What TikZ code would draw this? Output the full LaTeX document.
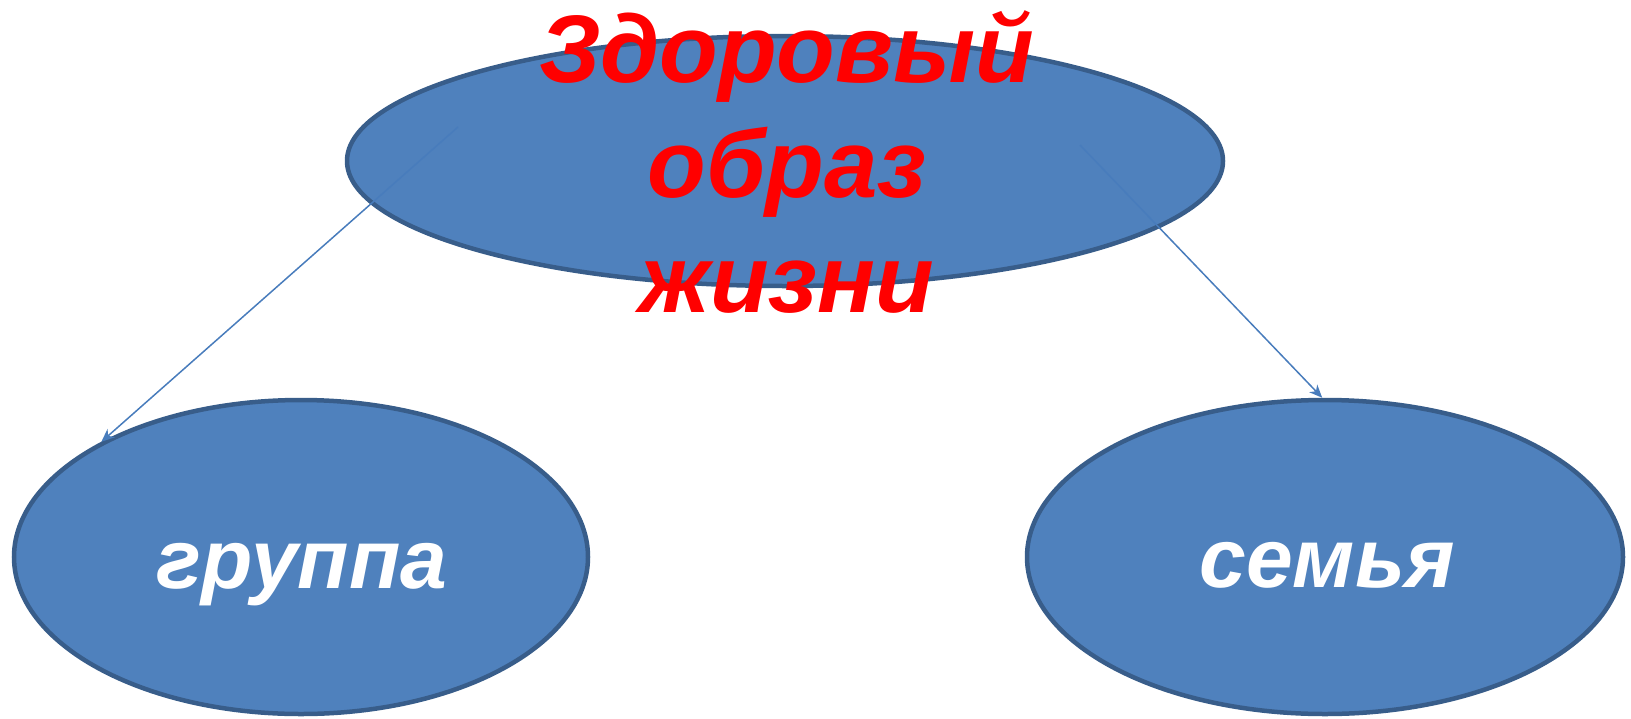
\documentclass[tikz,border=0pt]{standalone}
\usepackage{fontspec}
\setmainfont{Liberation Sans}
\usetikzlibrary{shapes.geometric,arrows.meta}
\definecolor{efill}{RGB}{79,129,189}
\definecolor{edraw}{RGB}{56,93,138}
\definecolor{lcol}{RGB}{72,124,188}
\definecolor{tred}{RGB}{255,0,0}
\tikzset{
  oval/.style={ellipse, fill=efill, draw=edraw, line width=4.5pt, inner sep=0pt},
  link/.style={draw=lcol, line width=1.5pt, -{Stealth[length=13pt,width=11pt,inset=4pt]}},
  wlabel/.style={text=white, font=\fontsize{84}{100}\selectfont\bfseries\itshape, anchor=base, inner sep=0pt},
  rlabel/.style={text=tred, font=\fontsize{96}{115}\selectfont\bfseries\itshape, anchor=base, inner sep=0pt}
}
\begin{document}
\begin{tikzpicture}[x=1pt,y=-1pt]
\useasboundingbox (0,0) rectangle (1631,718);
\node[oval, minimum width=876pt, minimum height=250pt] (top) at (785,161) {};
\node[oval, minimum width=574pt, minimum height=314pt] (grp) at (301,557) {};
\node[oval, minimum width=596pt, minimum height=314pt] (fam) at (1325,557) {};
\coordinate (ls) at (458,127);
\coordinate (rs) at (1080,145);
\draw[link] (ls) -- (grp.150.5);
\draw[link] (rs) -- (fam.91);
\node[wlabel] (tg) at (302,588) {группа};
\node[wlabel] (tf) at (1327,587) {семья};
\node[rlabel] (t1) at (787,82) {Здоровый};
\node[rlabel] (t2) at (787,197) {образ};
\node[rlabel] (t3) at (787,312) {жизни};
\end{tikzpicture}
\end{document}
